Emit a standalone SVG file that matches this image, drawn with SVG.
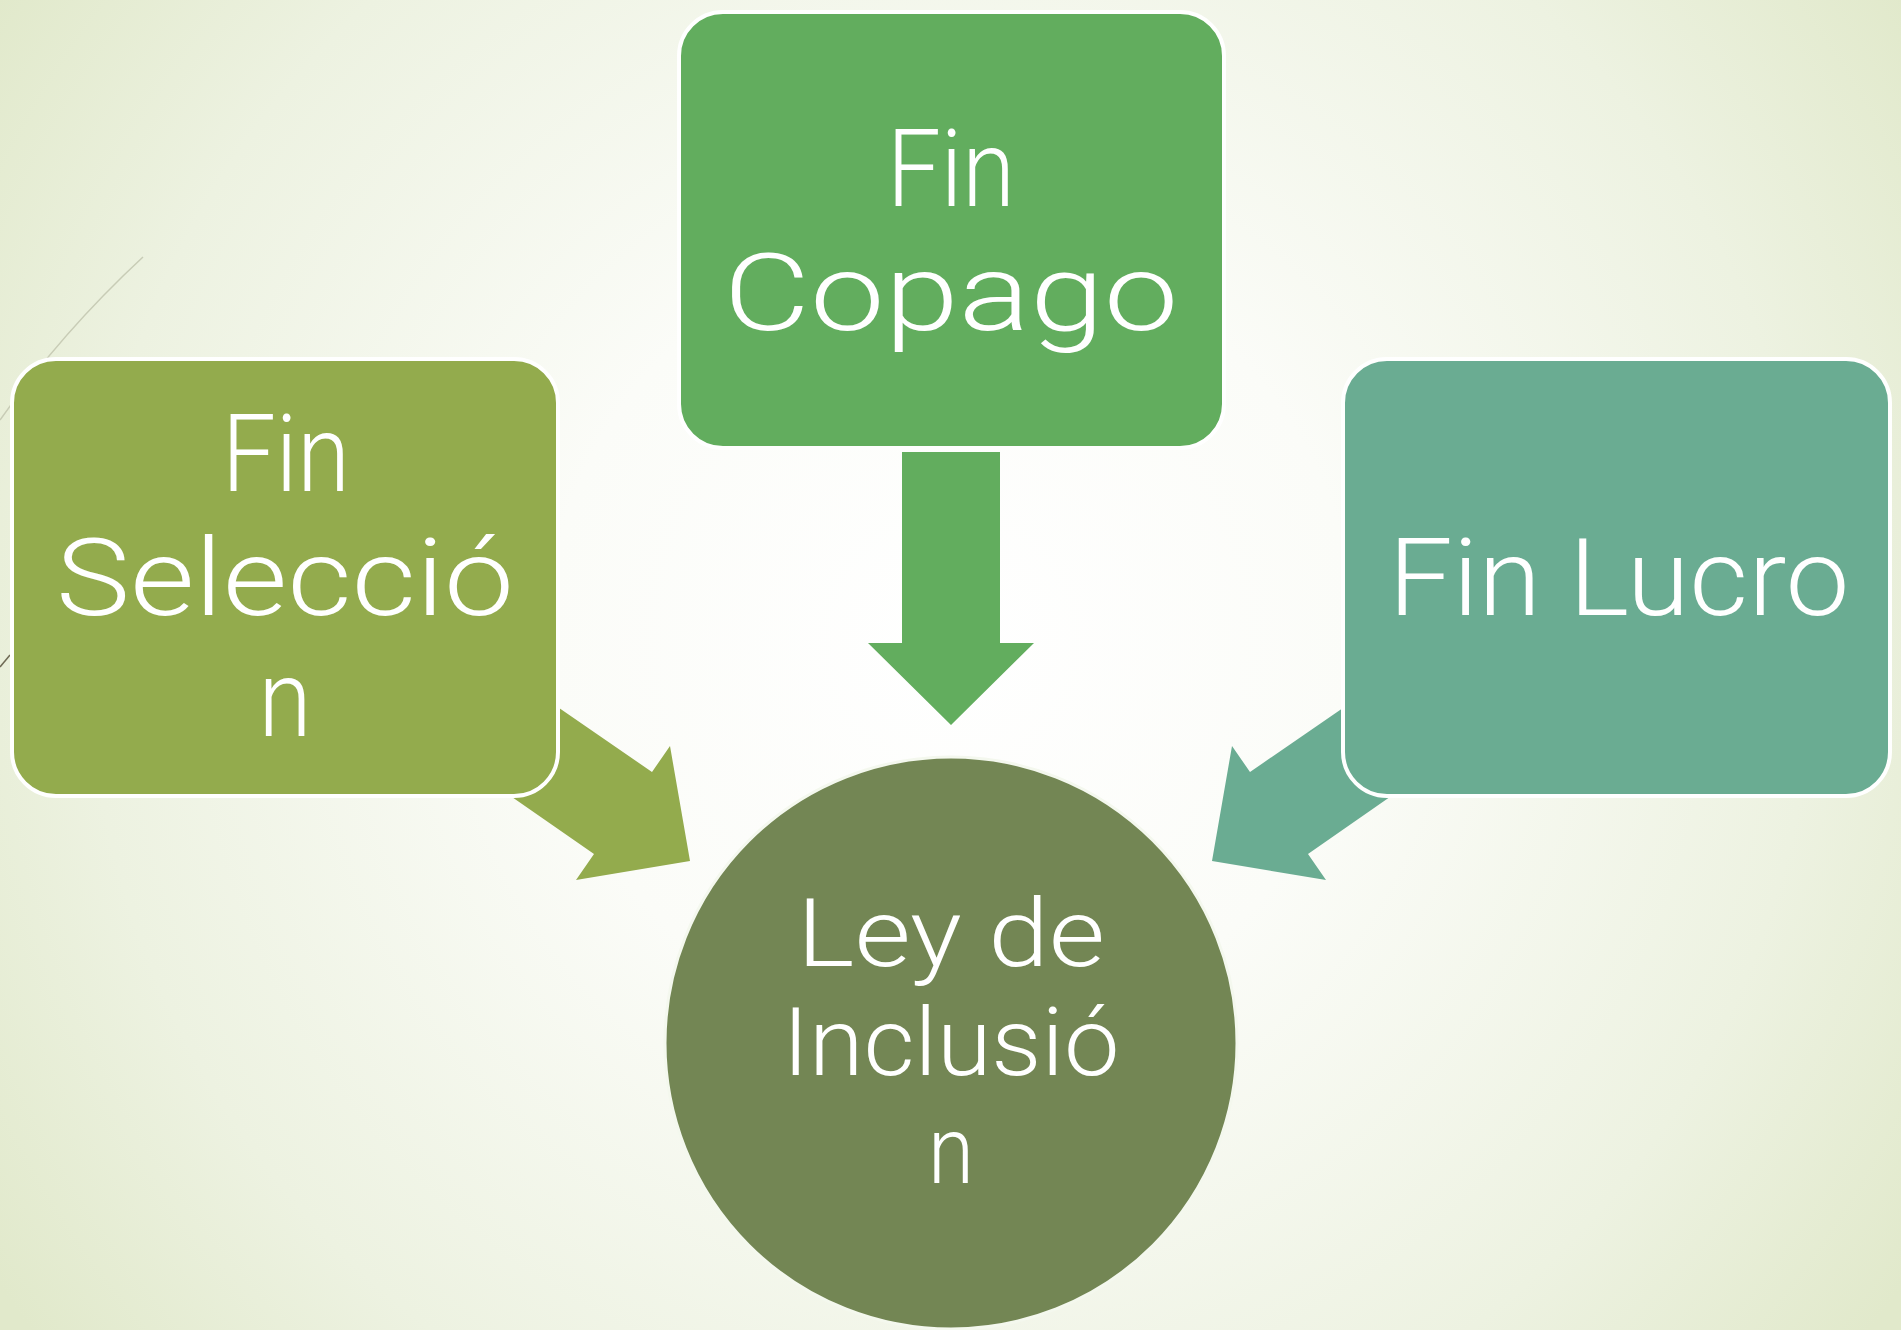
<svg xmlns="http://www.w3.org/2000/svg" width="1901" height="1330" viewBox="0 0 1901 1330">
  <defs>
    <radialGradient id="bg" cx="951" cy="640" r="1150" gradientUnits="userSpaceOnUse">
      <stop offset="0" stop-color="#ffffff"/>
      <stop offset="0.35" stop-color="#fbfcf8"/>
      <stop offset="0.75" stop-color="#edf2e1"/>
      <stop offset="1" stop-color="#e1e9cb"/>
    </radialGradient>
    <style>
      .box { stroke: #ffffff; stroke-width: 4; }
      .lbl { font-family: Roboto, "Noto Sans", "Liberation Sans", sans-serif; font-weight: 300; font-size: 108px; fill: #ffffff; text-anchor: middle; }
      .sm { font-size: 94px; }
    </style>
  </defs>

  <rect x="0" y="0" width="1901" height="1330" fill="url(#bg)"/>

  <!-- decorative theme lines -->
  <path d="M143,257 Q62,332 0,420" fill="none" stroke="#c8ccb6" stroke-width="1.5"/>
  <path d="M0,667 L10,655" fill="none" stroke="#6f6a55" stroke-width="1.5"/>

  <g id="connectors">
    <polygon points="902,452 1000,452 1000,643 1034,643 951,725 868,643 902,643" fill="#62ad5e"/>
    <polygon points="485,657 652,772 670,746 690,861 576,880 594,854 436,744" fill="#93ab4d"/>
    <polygon points="1417,657 1250,772 1232,746 1212,861 1326,880 1308,854 1466,744" fill="#6aac92"/>
  </g>

  <g id="node-copago">
    <rect class="box" x="679" y="12" width="545" height="436" rx="44" ry="44" fill="#62ad5e"/>
    <text class="lbl" x="951" y="206" textLength="128" lengthAdjust="spacingAndGlyphs">Fin</text>
    <text class="lbl" x="951" y="330" textLength="455" lengthAdjust="spacingAndGlyphs">Copago</text>
  </g>

  <g id="node-seleccion">
    <rect class="box" x="12" y="359" width="546" height="437" rx="44" ry="44" fill="#93ab4d"/>
    <text class="lbl" x="286" y="491" textLength="128" lengthAdjust="spacingAndGlyphs">Fin</text>
    <text class="lbl" x="285" y="615" textLength="458" lengthAdjust="spacingAndGlyphs">Selecció</text>
    <text class="lbl" x="285" y="736" textLength="53" lengthAdjust="spacingAndGlyphs">n</text>
  </g>

  <g id="node-lucro">
    <rect class="box" x="1343" y="359" width="547" height="437" rx="44" ry="44" fill="#6aac92"/>
    <text class="lbl" x="1619" y="615" textLength="461" lengthAdjust="spacingAndGlyphs">Fin Lucro</text>
  </g>

  <g id="node-ley">
    <circle cx="951" cy="1043" r="286" fill="#738654" stroke="#f4f8ee" stroke-width="3"/>
    <text class="lbl sm" x="951" y="966" textLength="308" lengthAdjust="spacingAndGlyphs">Ley de</text>
    <text class="lbl sm" x="951" y="1075" textLength="337" lengthAdjust="spacingAndGlyphs">Inclusió</text>
    <text class="lbl sm" x="951" y="1183" textLength="46" lengthAdjust="spacingAndGlyphs">n</text>
  </g>
</svg>
